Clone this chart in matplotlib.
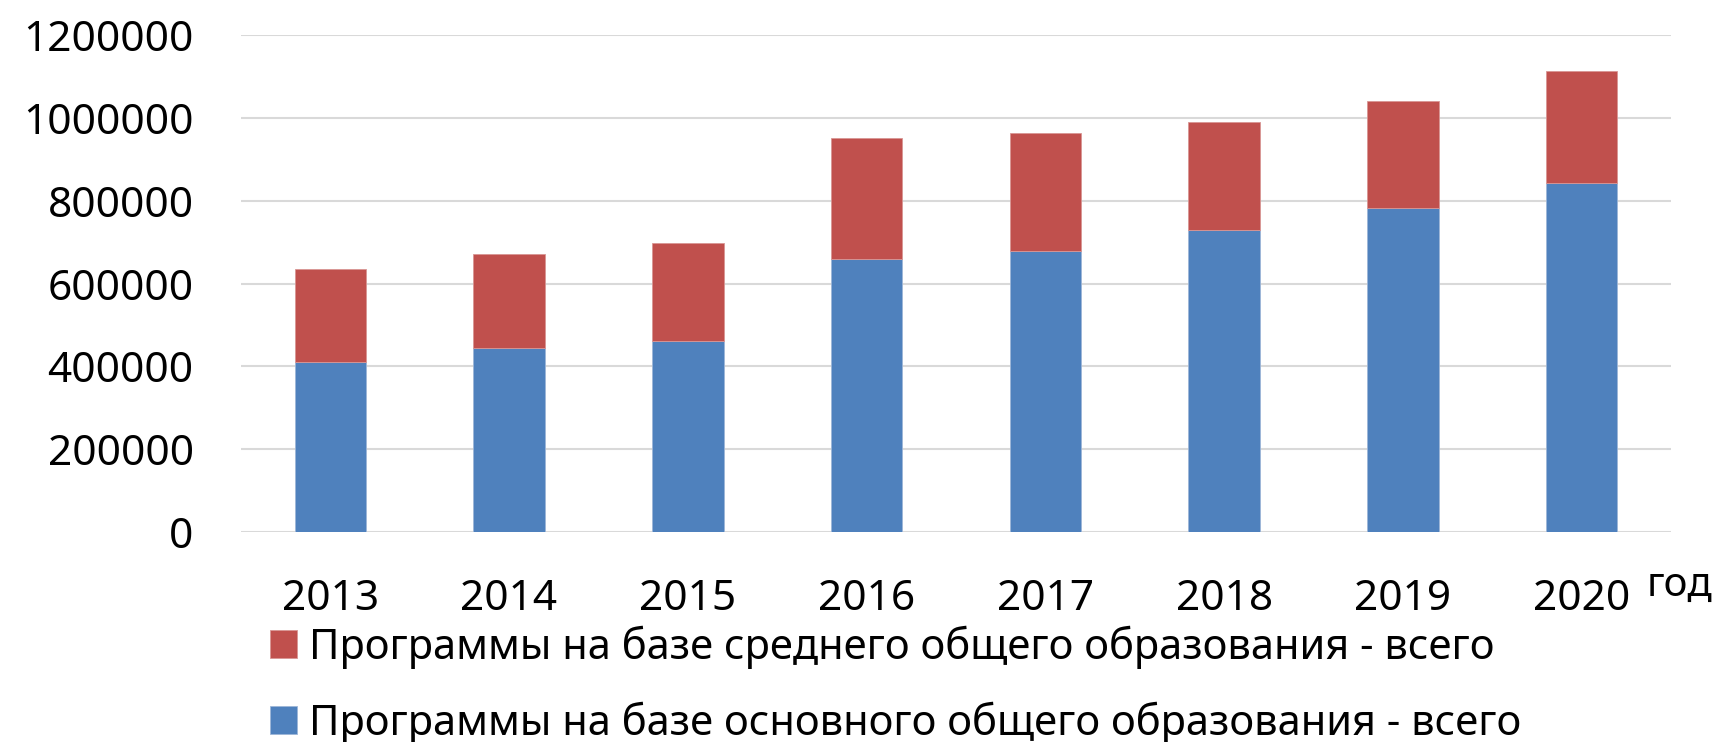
import numpy as np
import matplotlib
matplotlib.use('Agg')
import matplotlib.pyplot as plt

plt.rcParams['font.family'] = ['Noto Sans', 'DejaVu Sans']

# data
years = ['2013', '2014', '2015', '2016', '2017', '2018', '2019', '2020']
osnovnoe = [410000, 444000, 461000, 660000, 679000, 729000, 782000, 843000]  # blue, bottom
srednee = [226000, 228000, 238000, 291000, 285000, 261000, 259000, 271000]   # red, on top
label_srednee = 'Программы на базе среднего общего образования - всего'
label_osnovnoe = 'Программы на базе основного общего образования - всего'

blue = '#4F81BD'
red = '#C0504D'

fig = plt.figure(figsize=(17.22, 7.42), dpi=100)
ax = fig.add_axes([0.1399, 0.283, 0.9704 - 0.1399, 0.9528 - 0.283])

x = np.arange(len(years))
b1 = ax.bar(x, osnovnoe, width=0.4, color=blue, edgecolor='#9DB6D8', linewidth=0.6,
            label=label_osnovnoe, zorder=3)
b2 = ax.bar(x, srednee, width=0.4, bottom=osnovnoe, color=red, edgecolor='#D99694',
            linewidth=0.6, label=label_srednee, zorder=3)

ax.set_xlim(-0.5, len(years) - 0.5)
ax.set_ylim(0, 1200000)
ax.set_yticks(np.arange(0, 1200001, 200000))
ax.set_yticklabels([str(v) for v in range(0, 1200001, 200000)])
ax.set_xticks(x)
ax.set_xticklabels(years)
ax.yaxis.grid(True, color='#D9D9D9', linewidth=1.5, zorder=0)
ax.set_axisbelow(True)
for sp in ax.spines.values():
    sp.set_visible(False)
ax.tick_params(axis='both', length=0, labelsize=30.5)
ax.tick_params(axis='y', pad=34)
ax.tick_params(axis='x', pad=33)

# axis unit label next to the last year, a bit raised
fig.text(0.9564, 0.197, 'год', fontsize=29, ha='left', va='baseline')

fig.legend([b2, b1], [label_srednee, label_osnovnoe], loc='upper left',
           bbox_to_anchor=(0.157, 0.157), frameon=False, fontsize=30,
           handlelength=0.65, handleheight=0.65, handletextpad=0.27,
           labelspacing=0.78, borderpad=0, borderaxespad=0)

fig.savefig('out.png', dpi=100)
